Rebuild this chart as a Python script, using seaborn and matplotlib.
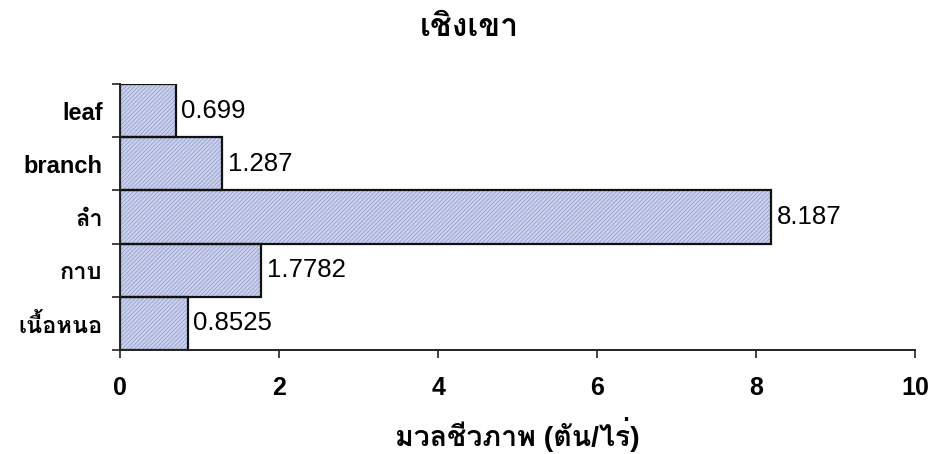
import matplotlib
matplotlib.use("Agg")
import matplotlib.pyplot as plt
from matplotlib import font_manager
from matplotlib.ft2font import FT2Font
import seaborn as sns
import pandas as pd

# data
parts = ["leaf", "branch", "ลำ", "กาบ", "เนื้อหนอ"]
biomass = [0.699, 1.287, 8.187, 1.7782, 0.8525]
value_labels = ["0.699", "1.287", "8.187", "1.7782", "0.8525"]
title = "เชิงเขา"
xlabel = "มวลชีวภาพ (ตัน/ไร่)"

# look for a font that can draw Thai
thai_fonts = []
for f in font_manager.fontManager.ttflist:
    try:
        if 0x0E01 in FT2Font(f.fname).get_charmap():
            thai_fonts.append(f.name)
    except Exception:
        pass
thai_fonts = list(dict.fromkeys(thai_fonts))

sns.set_style("white")
plt.rcParams['font.family'] = ['Liberation Sans'] + thai_fonts + ['DejaVu Sans']
plt.rcParams['text.color'] = 'black'
plt.rcParams['xtick.color'] = 'black'
plt.rcParams['ytick.color'] = 'black'
plt.rcParams['axes.labelcolor'] = 'black'
plt.rcParams['hatch.linewidth'] = 0.6

df = pd.DataFrame({'part': parts, 'biomass': biomass})

fig, ax = plt.subplots(figsize=(9.34, 4.54), dpi=100)
fig.subplots_adjust(left=0.1285, right=0.98, top=0.815, bottom=0.229)

# fill + light hatch (hatch takes the edge colour), then the black outline on top
sns.barplot(data=df, x='biomass', y='part', orient='h', ax=ax,
            color='#cad1ef', saturation=1, width=1.0,
            edgecolor='#98a0c8', linewidth=0, hatch='////////')
sns.barplot(data=df, x='biomass', y='part', orient='h', ax=ax,
            color='#111111', saturation=1, width=1.0, fill=False, linewidth=1.6)

for i, lab in enumerate(value_labels):
    ax.text(biomass[i] + 0.07, i, lab, va='center', ha='left', fontsize=18.5)

ax.set_xlim(0, 10)
ax.set_ylim(4.5, -0.5)
ax.set_xticks([0, 2, 4, 6, 8, 10])
ax.set_yticks([-0.5, 0.5, 1.5, 2.5, 3.5, 4.5], minor=True)
ax.tick_params(axis='y', which='major', length=0, labelsize=17, pad=12.5)
ax.tick_params(axis='y', which='minor', length=6, width=1.2, color='#222222', left=True)
ax.tick_params(axis='x', which='major', length=6, width=1.2, color='#222222', bottom=True,
               labelsize=18, pad=13)
for lbl in ax.get_yticklabels() + ax.get_xticklabels():
    lbl.set_fontweight('bold')

fig.text(0.502, 0.938, title, ha='center', va='center', fontsize=23, fontweight='bold')
ax.set_xlabel(xlabel, fontsize=20.5, fontweight='bold')
ax.xaxis.label.set_va('center')
ax.xaxis.set_label_coords(0.5, -0.316)
ax.set_ylabel('')
for s in ['top', 'right']:
    ax.spines[s].set_visible(False)
for s in ['left', 'bottom']:
    ax.spines[s].set_color('#222222')
    ax.spines[s].set_linewidth(1.4)

fig.savefig('out.png', dpi=100)
